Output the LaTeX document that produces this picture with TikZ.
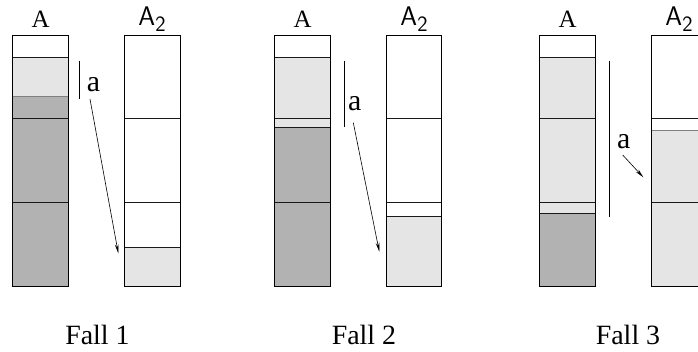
\documentclass[tikz,border=0pt]{standalone}
\usepackage{fontspec}
\setmainfont{Liberation Serif}
\usetikzlibrary{arrows.meta}
\definecolor{lightfill}{gray}{0.9}
\definecolor{darkfill}{gray}{0.7}
\definecolor{softrule}{gray}{0.5}
\newcommand{\colsub}{A\raisebox{-0.26em}{\fontsize{22}{24}\selectfont 2}}
\begin{document}
\begin{tikzpicture}[x=1bp,y=-1bp,
  frame/.style={draw=black,line width=1bp},
  rule/.style={draw=black!90,line width=1bp},
  softline/.style={draw=softrule,line width=0.7bp},
  span/.style={draw=black,line width=0.8bp},
  move/.style={draw=black,line width=0.6bp,-{Stealth[length=9bp,width=3.6bp]}},
  collabel/.style={anchor=base,inner sep=0pt,font=\fontsize{25}{28}\selectfont},
  subcollabel/.style={anchor=base,inner sep=0pt,font=\sffamily\fontsize{27}{30}\selectfont},
  amount/.style={anchor=base,inner sep=0pt,font=\fontsize{30}{32}\selectfont},
  caption/.style={anchor=base,inner sep=0pt,text depth=0pt,font=\fontsize{28}{32}\selectfont}]
\useasboundingbox (0,0) rectangle (698,351);
\clip (0,0) rectangle (698,351);

% ---------- Fall 1 ----------
\fill[lightfill] (12.7,57.3) rectangle (68.3,96.7);
\fill[darkfill] (12.7,96.7) rectangle (68.3,286);
\draw[softline] (12.7,96.7) -- (68.3,96.7);
\draw[rule] (12.7,57.3) -- (68.3,57.3) (12.7,118.7) -- (68.3,118.7) (12.7,202.3) -- (68.3,202.3);
\draw[frame] (12.7,35) rectangle (68.3,286);
\fill[lightfill] (124,247.3) rectangle (180,286);
\draw[rule] (124,118.7) -- (180,118.7) (124,202.3) -- (180,202.3) (124,247.3) -- (180,247.3);
\draw[frame] (124,35) rectangle (180,286);
\node[collabel] (f1A) at (40.5,27.3) {A};
\node[subcollabel] (f1B) at (152,25) {\colsub};
\draw[span] (79.3,60.7) -- (79.3,99);
\node[amount] (f1a) at (93.5,91.5) {a};
\coordinate (f1s) at (90,99);
\coordinate (f1t) at (118.3,253.3);
\draw[move] (f1s) -- (f1t);
\node[caption] (f1cap) at (97.5,344) {Fall 1};

% ---------- Fall 2 ----------
\fill[lightfill] (274.7,57.3) rectangle (330.3,127.3);
\fill[darkfill] (274.7,127.3) rectangle (330.3,286);
\draw[rule] (274.7,57.3) -- (330.3,57.3) (274.7,118.7) -- (330.3,118.7) (274.7,127.3) -- (330.3,127.3) (274.7,202.3) -- (330.3,202.3);
\draw[frame] (274.7,35) rectangle (330.3,286);
\fill[lightfill] (386.3,216.7) rectangle (441.7,286);
\draw[rule] (386.3,118.7) -- (441.7,118.7) (386.3,202.3) -- (441.7,202.3) (386.3,216.7) -- (441.7,216.7);
\draw[frame] (386.3,35) rectangle (441.7,286);
\node[collabel] (f2A) at (302.5,27.3) {A};
\node[subcollabel] (f2B) at (414,25) {\colsub};
\draw[span] (344.3,60.7) -- (344.3,126.7);
\node[amount] (f2a) at (354.7,110) {a};
\coordinate (f2s) at (353.3,122.7);
\coordinate (f2t) at (379.3,251.7);
\draw[move] (f2s) -- (f2t);
\node[caption] (f2cap) at (364,344) {Fall 2};

% ---------- Fall 3 ----------
\fill[lightfill] (539.7,57.3) rectangle (595.3,213.7);
\fill[darkfill] (539.7,213.7) rectangle (595.3,286);
\draw[rule] (539.7,57.3) -- (595.3,57.3) (539.7,118.7) -- (595.3,118.7) (539.7,202.3) -- (595.3,202.3) (539.7,213.7) -- (595.3,213.7);
\draw[frame] (539.7,35) rectangle (595.3,286);
\fill[lightfill] (651.3,130) rectangle (706.9,286);
\draw[softline] (651.3,130) -- (706.9,130);
\draw[rule] (651.3,118.7) -- (706.9,118.7) (651.3,202.3) -- (706.9,202.3);
\draw[frame] (651.3,35) rectangle (706.9,286);
\node[collabel] (f3A) at (567.5,27.3) {A};
\node[subcollabel] (f3B) at (679,25) {\colsub};
\draw[span] (609.3,60.7) -- (609.3,216.7);
\node[amount] (f3a) at (623.7,148) {a};
\coordinate (f3s) at (622.7,155);
\coordinate (f3t) at (643.3,177.3);
\draw[move] (f3s) -- (f3t);
\node[caption] (f3cap) at (628,344) {Fall 3};
\end{tikzpicture}
\end{document}
